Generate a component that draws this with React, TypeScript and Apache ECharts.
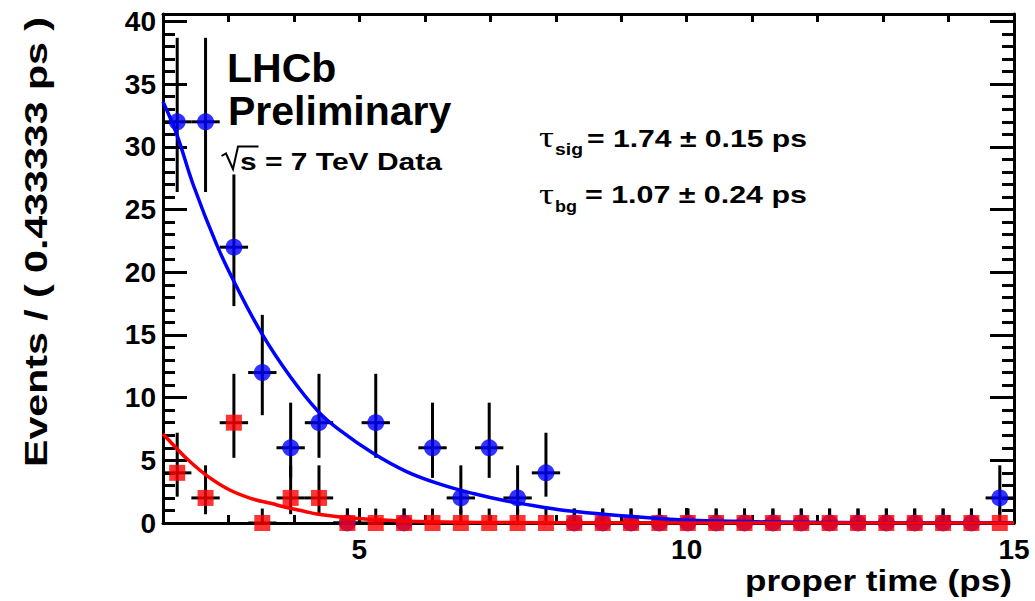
import React, { useEffect, useRef } from "react";
import * as echarts from "echarts";

// ---- data ----
const binCenters = [
  2.217, 2.65, 3.083, 3.517, 3.95, 4.383, 4.817, 5.25, 5.683, 6.117, 6.55, 6.983, 7.417, 7.85, 8.283,
  8.717, 9.15, 9.583, 10.017, 10.45, 10.883, 11.317, 11.75, 12.183, 12.617, 13.05, 13.483, 13.917, 14.35, 14.783,
];
const binWidth = 0.433333;

const totalCounts = [32, 32, 22, 12, 6, 8, 0, 8, 0, 6, 2, 6, 2, 4, 0, 0, 0, 0, 0, 0, 0, 0, 0, 0, 0, 0, 0, 0, 0, 2];
const totalLow = [26.4, 26.4, 17.3, 8.6, 3.6, 5.2, 0, 5.2, 0, 3.6, 0.7, 3.6, 0.7, 2.1, 0, 0, 0, 0, 0, 0, 0, 0, 0, 0, 0, 0, 0, 0, 0, 0.7];
const totalHigh = [38.7, 38.7, 27.8, 16.6, 9.6, 11.9, 1.15, 11.9, 1.15, 9.6, 4.6, 9.6, 4.6, 7.2, 1.15, 1.15, 1.15, 1.15, 1.15, 1.15, 1.15, 1.15, 1.15, 1.15, 1.15, 1.15, 1.15, 1.15, 1.15, 4.6];

const bgCounts = [4, 2, 8, 0, 2, 2, 0, 0, 0, 0, 0, 0, 0, 0, 0, 0, 0, 0, 0, 0, 0, 0, 0, 0, 0, 0, 0, 0, 0, 0];
const bgLow = [2.1, 0.7, 5.2, 0, 0.7, 0.7, 0, 0, 0, 0, 0, 0, 0, 0, 0, 0, 0, 0, 0, 0, 0, 0, 0, 0, 0, 0, 0, 0, 0, 0];
const bgHigh = [7.2, 4.6, 11.9, 1.15, 4.6, 4.6, 1.15, 1.15, 1.15, 1.15, 1.15, 1.15, 1.15, 1.15, 1.15, 1.15, 1.15, 1.15, 1.15, 1.15, 1.15, 1.15, 1.15, 1.15, 1.15, 1.15, 1.15, 1.15, 1.15, 1.15];

const totalFitT = [2.0, 2.21, 2.46, 2.82, 3.1, 3.51, 3.94, 4.37, 4.7, 5.21, 5.72, 6.23, 6.74, 7.25, 7.76, 8.22, 8.83, 9.75, 10.7, 12.0, 13.5, 15.0];
const totalFitY = [33.6, 31.0, 27.0, 22.2, 19.1, 15.1, 11.7, 8.9, 7.4, 5.56, 4.1, 3.1, 2.35, 1.75, 1.3, 0.95, 0.65, 0.3, 0.13, 0.05, 0.02, 0.01];

const bgFitT = [2.0, 2.2, 2.39, 2.69, 3.02, 3.35, 3.66, 3.84, 4.17, 4.35, 4.68, 4.86, 5.2, 5.88, 7.0, 8.5, 10.5, 15.0];
const bgFitY = [7.1, 6.0, 5.0, 3.7, 2.63, 1.95, 1.55, 1.3, 0.92, 0.72, 0.5, 0.4, 0.28, 0.12, 0.04, 0.01, 0.003, 0];

const xMinorTicks = [2, 3, 4, 5, 6, 7, 8, 9, 10, 11, 12, 13, 14, 15];
const xMajorTicks = [5, 10, 15];
const xLabels = [5, 10, 15];
const yMinorTicks = [
  0, 1, 2, 3, 4, 5, 6, 7, 8, 9, 10, 11, 12, 13, 14, 15, 16, 17, 18, 19, 20,
  21, 22, 23, 24, 25, 26, 27, 28, 29, 30, 31, 32, 33, 34, 35, 36, 37, 38, 39, 40,
];
const yMajorTicks = [0, 5, 10, 15, 20, 25, 30, 35, 40];
const yLabels = [0, 5, 10, 15, 20, 25, 30, 35, 40];

const xMin = 2;
const xMax = 15;
const yMin = 0;
const yMax = 40.6;

const SANS = "Liberation Sans";

function textWidth(text: string, font: string): number {
  const ctx = document.createElement("canvas").getContext("2d");
  if (!ctx) return text.length * 10;
  ctx.font = font;
  return ctx.measureText(text).width;
}

function fitText(
  text: string,
  size: number,
  left: number,
  baseline: number,
  target: number | null,
  weight: string = "bold",
  family: string = SANS
) {
  const w = textWidth(text, `${weight} ${size}px "${family}"`);
  const sx = target ? target / w : 1;
  return {
    type: "text",
    x: left,
    y: baseline - 0.347 * size,
    scaleX: sx,
    silent: true,
    style: {
      text,
      fontSize: size,
      fontWeight: weight,
      fontFamily: family,
      fill: "#000",
      align: "left",
      verticalAlign: "middle",
      textAlign: "left",
      textVerticalAlign: "middle",
    },
  };
}

function errorBarSeries(xs: number[], ys: number[], lo: number[], hi: number[]) {
  const data = xs.map((x, i) => [x, ys[i], lo[i], hi[i]]);
  return {
    type: "custom",
    xAxisIndex: 0,
    yAxisIndex: 0,
    encode: { x: 0, y: 1 },
    data,
    silent: true,
    renderItem: (params: any, api: any) => {
      const x = api.value(0);
      const y = api.value(1);
      const pLo = api.coord([x, api.value(2)]);
      const pHi = api.coord([x, api.value(3)]);
      const pL = api.coord([x - binWidth / 2, y]);
      const pR = api.coord([x + binWidth / 2, y]);
      const st = { stroke: "#000", lineWidth: 3 };
      return {
        type: "group",
        children: [
          { type: "line", shape: { x1: pLo[0], y1: pLo[1], x2: pHi[0], y2: pHi[1] }, style: st },
          { type: "line", shape: { x1: pL[0], y1: pL[1], x2: pR[0], y2: pR[1] }, style: st },
        ],
      };
    },
  };
}

export default function App() {
  const ref = useRef<HTMLDivElement>(null);

  useEffect(() => {
    if (!ref.current) return;
    const chart = echarts.init(ref.current, null, { renderer: "svg" });

    const tickLine = { color: "#000", width: 3 };
    const frameLine = { show: true, onZero: false, lineStyle: { color: "#000", width: 3 } };
    const labelStyle = { fontSize: 28, fontWeight: "bold", fontFamily: SANS, color: "#000" };

    const yTitle = "Events / ( 0.433333 ps )";
    const yTitleSize = 31;
    const yTitleW = textWidth(yTitle, `bold ${yTitleSize}px "${SANS}"`);
    const xTitle = fitText("proper time (ps)", 30, 745, 591, 267);

    const option: any = {
      animation: false,
      backgroundColor: "#fff",
      grid: { left: 163, right: 21, top: 14, bottom: 78, outerBoundsMode: "none" },
      xAxis: [
        {
          type: "value", position: "bottom", min: xMin, max: xMax,
          axisLine: frameLine,
          axisTick: { show: true, inside: true, length: 8, customValues: xMinorTicks, lineStyle: tickLine },
          axisLabel: { show: true, customValues: xLabels, margin: 12, ...labelStyle },
          splitLine: { show: false },
        },
        {
          type: "value", position: "bottom", min: xMin, max: xMax,
          axisLine: { show: false, onZero: false },
          axisTick: { show: true, inside: true, length: 15, customValues: xMajorTicks, lineStyle: tickLine },
          axisLabel: { show: false },
          splitLine: { show: false },
        },
        {
          type: "value", position: "top", min: xMin, max: xMax,
          axisLine: frameLine,
          axisTick: { show: true, inside: true, length: 8, customValues: xMinorTicks, lineStyle: tickLine },
          axisLabel: { show: false },
          splitLine: { show: false },
        },
      ],
      yAxis: [
        {
          type: "value", position: "left", min: yMin, max: yMax,
          axisLine: frameLine,
          axisTick: { show: true, inside: true, length: 12, customValues: yMinorTicks, lineStyle: tickLine },
          axisLabel: { show: true, customValues: yLabels, margin: 7, ...labelStyle },
          splitLine: { show: false },
        },
        {
          type: "value", position: "left", min: yMin, max: yMax,
          axisLine: { show: false, onZero: false },
          axisTick: { show: true, inside: true, length: 24, customValues: yMajorTicks, lineStyle: tickLine },
          axisLabel: { show: false },
          splitLine: { show: false },
        },
        {
          type: "value", position: "right", min: yMin, max: yMax,
          axisLine: frameLine,
          axisTick: { show: true, inside: true, length: 12, customValues: yMinorTicks, lineStyle: tickLine },
          axisLabel: { show: false },
          splitLine: { show: false },
        },
        {
          type: "value", position: "right", min: yMin, max: yMax,
          axisLine: { show: false, onZero: false },
          axisTick: { show: true, inside: true, length: 24, customValues: yMajorTicks, lineStyle: tickLine },
          axisLabel: { show: false },
          splitLine: { show: false },
        },
      ],
      series: [
        errorBarSeries(binCenters, totalCounts, totalLow, totalHigh),
        {
          type: "scatter", xAxisIndex: 0, yAxisIndex: 0, symbol: "circle", symbolSize: 17,
          itemStyle: { color: "#0000ff" },
          data: binCenters.map((x, i) => [x, totalCounts[i]]),
          silent: true,
        },
        {
          type: "line", xAxisIndex: 0, yAxisIndex: 0, smooth: 0.4, showSymbol: false, symbol: "none",
          lineStyle: { color: "#0000ff", width: 3.5 },
          data: totalFitT.map((t, i) => [t, totalFitY[i]]),
          silent: true,
        },
        errorBarSeries(binCenters, bgCounts, bgLow, bgHigh),
        {
          type: "scatter", xAxisIndex: 0, yAxisIndex: 0, symbol: "rect", symbolSize: 16,
          itemStyle: { color: "#ff0000" },
          data: binCenters.map((x, i) => [x, bgCounts[i]]),
          silent: true,
        },
        {
          type: "line", xAxisIndex: 0, yAxisIndex: 0, smooth: 0.4, showSymbol: false, symbol: "none",
          lineStyle: { color: "#ff0000", width: 3.5 },
          data: bgFitT.map((t, i) => [t, bgFitY[i]]),
          silent: true,
        },
      ],
      graphic: [
        fitText("LHCb", 41, 227, 82, null),
        fitText("Preliminary", 41, 228, 125, null),
        fitText("s = 7 TeV Data", 23, 240, 170, 202),
        {
          type: "polyline", silent: true,
          shape: { points: [[221.5, 156], [226, 153.5], [233, 169], [238, 146.5], [258.5, 146.5]] },
          style: { stroke: "#000", lineWidth: 2, fill: null },
        },
        // tau_sig row
        fitText("\u03c4", 29, 539, 147, 15, "normal", "Liberation Serif"),
        fitText("sig", 16, 555, 155.5, 28),
        fitText("= 1.74 \u00b1 0.15 ps", 23, 587, 147, 220),
        // tau_bg row
        fitText("\u03c4", 29, 539, 204, 15, "normal", "Liberation Serif"),
        fitText("bg", 16, 555, 212, 22),
        fitText("= 1.07 \u00b1 0.24 ps", 23, 585, 203.5, 222),
        xTitle,
        {
          type: "text",
          x: 47 - 0.347 * yTitleSize,
          y: 242,
          rotation: Math.PI / 2,
          scaleX: 450 / yTitleW,
          silent: true,
          style: {
            text: yTitle,
            fontSize: yTitleSize,
            fontWeight: "bold",
            fontFamily: SANS,
            fill: "#000",
            align: "center",
            verticalAlign: "middle",
            textAlign: "center",
            textVerticalAlign: "middle",
          },
        },
      ],
    };

    chart.setOption(option);
    return () => chart.dispose();
  }, []);

  return (
    <div
      ref={ref}
      style={{ position: "absolute", left: 0, top: 0, width: "1035px", height: "601px", background: "#fff" }}
    />
  );
}
